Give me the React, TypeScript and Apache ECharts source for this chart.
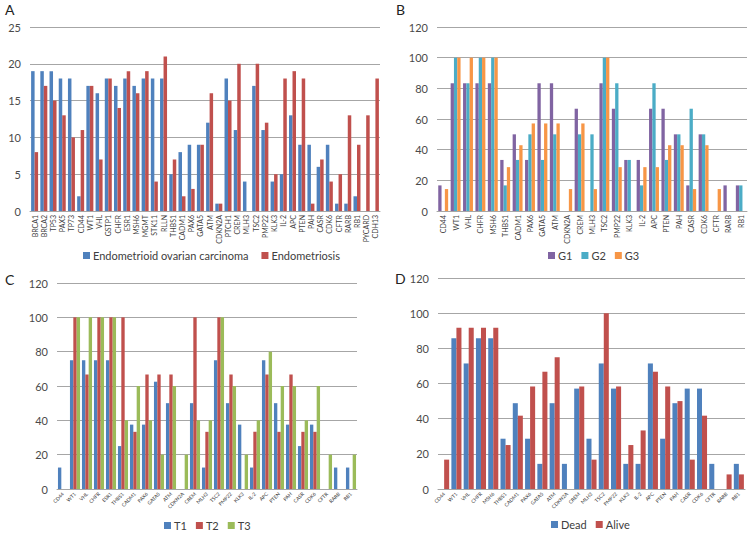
import React, { useEffect, useRef } from "react";
import * as echarts from "echarts";

const genesA = ["BRCA1","BRCA2","TP53","PAX5","TP73","CD44","WT1","VHL","GSTP1","CHFR","ESR1","MSH6","MGMT","STK11","RLLN","THBS1","CADM1","PAX6","GATA5","ATM","CDKN2A","PTCH1","CREM","MLH3","TSC2","PMP22","KLK3","IL-2","APC","PTEN","PAH","CASR","CDK6","CFTR","RARB","RB1","PYCARD","CDH13"];
const endometrioid = [19,19,19,18,18,2,17,16,18,17,18,17,18,18,18,5,8,9,9,12,1,18,11,4,17,11,4,5,13,9,9,6,9,1,1,2,0,0];
const endometriosis = [8,17,15,13,10,11,17,7,18,14,19,16,19,4,21,7,2,3,9,16,1,15,20,0,20,12,5,18,19,18,1,7,4,5,13,9,13,18];

const genesB = ["CD44","WT1","VHL","CHFR","MSH6","THBS1","CADM1","PAX6","GATA5","ATM","CDKN2A","CREM","MLH3","TSC2","PMP22","KLK3","IL-2","APC","PTEN","PAH","CASR","CDK6","CFTR","RARB","RB1"];
const g1 = [16.7,83.3,83.3,83.3,83.3,33.3,50,33.3,83.3,83.3,0,66.7,0,83.3,66.7,33.3,33.3,66.7,66.7,50,16.7,50,0,16.7,16.7];
const g2 = [0,100,83.3,100,100,16.7,33.3,50,33.3,50,0,50,50,100,83.3,33.3,16.7,83.3,33.3,50,66.7,50,0,0,16.7];
const g3 = [14.3,100,100,100,100,28.6,42.9,57.1,57.1,57.1,14.3,57.1,14.3,100,28.6,0,28.6,28.6,42.9,42.9,14.3,42.9,14.3,0,0];

const genesC = ["CD44","WT1","VHL","CHFR","ESR1","THBS1","CADM1","PAX6","GATA5","ATM","CDKN2A","CREM","MLH3","TSC2","PMP22","KLK3","IL-2","APC","PTEN","PAH","CASR","CDK6","CFTR","RARB","RB1"];
const t1 = [12.5,75,75,75,75,25,37.5,37.5,62.5,50,0,50,12.5,75,50,37.5,12.5,75,50,37.5,25,37.5,0,12.5,12.5];
const t2 = [0,100,66.7,100,100,100,33.3,66.7,66.7,66.7,0,100,33.3,100,66.7,0,33.3,66.7,33.3,66.7,33.3,33.3,0,0,0];
const t3 = [0,100,100,100,100,40,60,40,20,60,20,40,40,100,60,20,40,80,60,60,40,60,20,0,20];

const genesD = ["CD44","WT1","VHL","CHFR","MSH6","THBS1","CADM1","PAX6","GATA5","ATM","CDKN2A","CREM","MLH3","TSC2","PMP22","KLK3","IL-2","APC","PTEN","PAH","CASR","CDK6","CFTR","RARB","RB1"];
const dead = [0,85.7,71.4,85.7,85.7,28.6,48.8,28.6,14.3,48.8,14.3,57.1,28.6,71.4,57.1,14.3,14.3,71.4,28.6,48.8,57.1,57.1,14.3,0,14.3];
const alive = [16.7,91.7,91.7,91.7,91.7,25,41.7,58.3,66.7,75,0,58.3,16.7,100,58.3,25,33.3,66.7,58.3,50,16.7,41.7,0,8.3,8.3];

const yTicksA = { max: 25, interval: 5 };
const yTicksPct = { max: 120, interval: 20 };

const BLUE = "#4F81BD";
const RED = "#C0504D";
const PURPLE = "#8064A2";
const TEAL = "#4BACC6";
const ORANGE = "#F79646";
const GREEN = "#9BBB59";

export default function App() {
  const ref = useRef<HTMLDivElement>(null);
  useEffect(() => {
    if (!ref.current) return;
    const chart = echarts.init(ref.current, undefined, { renderer: "svg" });
    const font = "Lato, Liberation Sans, Arial, sans-serif";
    const xAxisCommon = (idx: number, data: string[], rotate: number, size: number) => ({
      type: "category",
      gridIndex: idx,
      data,
      axisTick: { show: false },
      axisLine: { show: true, lineStyle: { color: "#A6A6A6", width: 1 } },
      axisLabel: { rotate, fontSize: size, color: "#404040", interval: 0, margin: 4, fontFamily: font },
    });
    const yAxisCommon = (idx: number, t: { max: number; interval: number }) => ({
      type: "value",
      gridIndex: idx,
      min: 0,
      max: t.max,
      interval: t.interval,
      axisLine: { show: false },
      axisTick: { show: false },
      splitLine: { lineStyle: { color: "#A6A6A6", width: 1 } },
      axisLabel: { fontSize: 11, color: "#4a4a4a", margin: 9, fontFamily: font },
    });
    const bar = (name: string, data: number[], color: string, idx: number, gap: string) => ({
      type: "bar",
      name,
      data,
      xAxisIndex: idx,
      yAxisIndex: idx,
      barGap: "0%",
      barCategoryGap: gap,
      itemStyle: { color },
    });
    const legendCommon = {
      itemWidth: 7,
      itemHeight: 7,
      itemGap: 9,
      padding: 0,
      icon: "rect",
      textStyle: { fontSize: 11, color: "#404040", fontFamily: font, padding: [0, 0, 0, -2] },
    };
    const titleStyle = { fontSize: 14, fontWeight: "normal", color: "#222", fontFamily: font };
    chart.setOption({
      animation: false,
      backgroundColor: "#ffffff",
      title: [
        { text: "A", left: 5, top: 2, padding: 0, textStyle: titleStyle },
        { text: "B", left: 396, top: 2, padding: 0, textStyle: titleStyle },
        { text: "C", left: 5, top: 272, padding: 0, textStyle: titleStyle },
        { text: "D", left: 395, top: 271, padding: 0, textStyle: titleStyle },
      ],
      grid: [
        { left: 30, width: 350, top: 27, height: 184 },
        { left: 437, width: 310, top: 27, height: 184 },
        { left: 57, width: 300, top: 283, height: 206 },
        { left: 438, width: 307, top: 278, height: 211 },
      ],
      xAxis: [
        xAxisCommon(0, genesA, 90, 7),
        xAxisCommon(1, genesB, 90, 7),
        xAxisCommon(2, genesC, 45, 5),
        xAxisCommon(3, genesD, 45, 5),
      ],
      yAxis: [
        yAxisCommon(0, yTicksA),
        yAxisCommon(1, yTicksPct),
        yAxisCommon(2, yTicksPct),
        yAxisCommon(3, yTicksPct),
      ],
      legend: [
        { ...legendCommon, data: ["Endometrioid ovarian carcinoma", "Endometriosis"], left: 83, top: 250, itemGap: 13 },
        { ...legendCommon, data: ["G1", "G2", "G3"], left: 548, top: 250 },
        { ...legendCommon, data: ["T1", "T2", "T3"], left: 164, top: 520 },
        { ...legendCommon, data: ["Dead", "Alive"], left: 551, top: 519 },
      ],
      series: [
        bar("Endometrioid ovarian carcinoma", endometrioid, BLUE, 0, "24%"),
        bar("Endometriosis", endometriosis, RED, 0, "24%"),
        bar("G1", g1, PURPLE, 1, "20%"),
        bar("G2", g2, TEAL, 1, "20%"),
        bar("G3", g3, ORANGE, 1, "20%"),
        bar("T1", t1, BLUE, 2, "16%"),
        bar("T2", t2, RED, 2, "16%"),
        bar("T3", t3, GREEN, 2, "16%"),
        bar("Dead", dead, BLUE, 3, "18%"),
        bar("Alive", alive, RED, 3, "18%"),
      ],
    });
    return () => chart.dispose();
  }, []);
  return (
    <div
      ref={ref}
      style={{ position: "fixed", left: 0, top: 0, width: 751, height: 533, background: "#fff" }}
    />
  );
}
